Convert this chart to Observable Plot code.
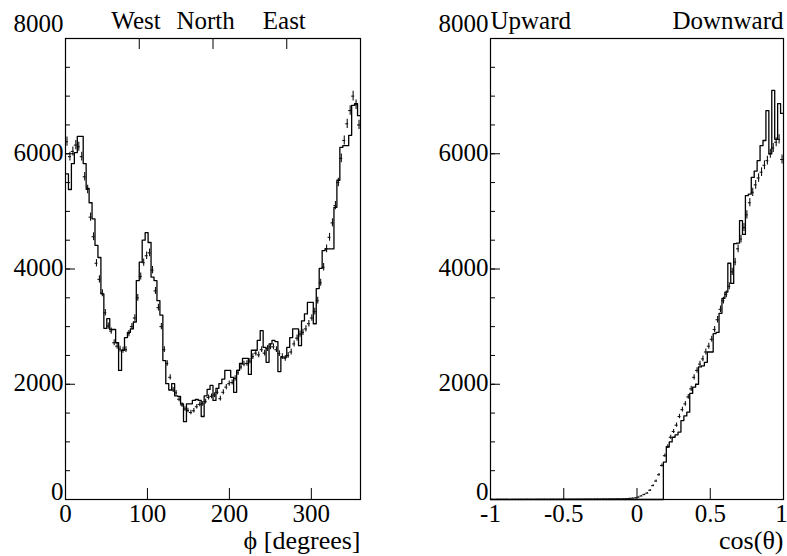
<!DOCTYPE html>
<html><head><meta charset="utf-8">
<script src="https://cdn.jsdelivr.net/npm/d3@7"></script>
<script src="https://cdn.jsdelivr.net/npm/@observablehq/plot@0.6"></script>
<style>
body{margin:0;background:#fff;}
#wrap{position:relative;width:787px;height:556px;overflow:hidden;}
#left,#right{position:absolute;top:0;}
#left{left:0}
#right{left:393px}
#wrap svg, #wrap svg text{font-family:"Liberation Serif","Times New Roman",Times,serif !important;}
</style></head><body><div id="wrap"><div id="left"></div><div id="right"></div></div>
<script>
// ---------- data: azimuth (phi) panel ----------
const phiStart = 0;
const phiBinWidth = 3.6;
const phiHist = [5650,5380,5830,6020,6300,6300,5830,5400,5150,4870,
4410,4200,3570,2970,3140,2950,2950,2720,2240,2590,
2810,2900,2960,3080,3800,4120,4500,4630,4460,3860,
3800,3450,3200,2410,2010,1900,2010,1800,1790,1660,
1350,1660,1660,1720,1735,1720,1440,1800,1910,1980,
1720,1930,2010,2090,2240,2240,2120,1860,2240,2360,
2450,2450,2170,2590,2590,2760,2930,2640,2380,2700,
2760,2740,2220,2470,2470,2640,2810,2960,2960,2670,
3100,3220,3420,3420,3050,3660,4010,4320,4350,4350,
4350,5070,5540,6110,6140,6140,6320,6840,6870,6660];
const phiData = [6210,5950,6040,6150,6120,5950,5600,5380,4900,4560,
4100,3820,3580,3240,3010,2920,2720,2660,2610,2590,
2600,2880,3000,3150,3500,3870,4110,4230,4280,3980,
3620,3330,3000,2600,2360,2120,1900,1850,1740,1640,
1570,1545,1510,1540,1610,1650,1660,1700,1770,1790,
1810,1860,1750,1860,1950,2010,2030,2100,2200,2300,
2350,2360,2400,2480,2540,2510,2600,2540,2620,2650,
2650,2600,2530,2480,2450,2500,2560,2700,2800,2870,
2900,2960,3050,3150,3260,3450,3760,4030,4350,4550,
4800,5100,5500,5920,6230,6520,6750,7000,6850,6500];
const phiDomain = [0, 360];
const phiTicks = [0, 100, 200, 300];
const phiTickLabels = ["0", "100", "200", "300"];
const phiTopTicks = [90, 180, 270];
const phiTopLabels = ["West", "North", "East"];
const phiTopLabelPos = [86, 171, 267];
const phiTitle = "ϕ [degrees]";

// ---------- data: zenith (cos theta) panel ----------
const cosStart = -1;
const cosBinWidth = 0.02;
const cosHist = [0,0,0,0,0,0,0,0,0,0,
0,0,0,0,0,0,0,0,0,0,
0,0,0,0,0,0,0,0,0,0,
0,0,0,0,0,0,0,0,0,0,
0,0,0,0,0,0,0,0,0,0,
0,0,0,0,0,0,0,0,0,650,
910,1000,1080,1120,1170,1370,1450,1515,1840,1950,
2000,2300,2320,2380,2560,2560,2880,2900,3230,3490,
3600,4100,3750,4440,4450,4840,4600,5275,5300,5590,
5700,5880,6140,6230,6750,6000,7100,6250,6870,6700];
const cosData = [2,1,3,2,2,3,1,2,3,2,
3,2,4,3,2,3,4,3,4,3,
4,5,4,4,5,6,5,5,6,6,
7,6,7,8,7,8,9,8,9,10,
10,11,10,12,11,12,15,18,22,28,
40,60,85,110,160,240,320,430,590,760,
920,1080,1180,1290,1440,1560,1660,1780,1920,2120,
2240,2350,2440,2560,2660,2780,2950,3120,3300,3450,
3560,3700,3950,4120,4350,4520,4720,4940,5150,5330,
5460,5580,5680,5800,5880,6000,6100,6200,6250,5900];
const cosDomain = [-1, 1];
const cosTicks = [-1, -0.5, 0, 0.5, 1];
const cosTickLabels = ["-1", "-0.5", "0", "0.5", "1"];
const cosTopLabels = ["Upward", "Downward"];
const cosTitle = "cos(θ)";

// ---------- shared y axis ----------
const yDomain = [0, 8000];
const yMajorTicks = [0, 2000, 4000, 6000, 8000];
const yMinorTicks = [0,500,1000,1500,2000,2500,3000,3500,4000,4500,5000,5500,6000,6500,7000,7500,8000];

const FONT = '"Liberation Serif", "Times New Roman", Times, serif';
const FS = 25;
const H = 556, MT = 38, MB = 57;
const plotH = H - MT - MB;

function histPoints(start, bw, vals) {
  const pts = vals.map((v, i) => ({x: start + i * bw, y: v}));
  pts.push({x: start + vals.length * bw, y: vals[vals.length - 1]});
  return pts;
}
function dataPoints(start, bw, vals) {
  return vals.map((v, i) => ({x: start + (i + 0.5) * bw, y: v, e: Math.sqrt(v)}));
}

function panel(o) {
  const plotW = o.width - o.marginLeft - o.marginRight;
  const hist = histPoints(o.start, o.bw, o.hist);
  const pts = dataPoints(o.start, o.bw, o.data);
  const labelMap = new Map(o.xTicks.map((t, i) => [t, o.xTickLabels[i]]));
  const lastTick = o.xTicks[o.xTicks.length - 1];
  const firstY = yMajorTicks[0], lastY = yMajorTicks[yMajorTicks.length - 1];
  const midY = yMajorTicks.slice(1, -1);
  const txt = {fontFamily: FONT, fontSize: FS, fill: "black"};
  const marks = [
    Plot.ruleX(pts, {x: "x", y1: d => d.y - d.e, y2: d => d.y + d.e, stroke: "#111", strokeWidth: 1.1}),
    Plot.ruleY(pts, {y: "y", x1: d => d.x - o.bw / 2, x2: d => d.x + o.bw / 2, stroke: "#111", strokeWidth: 1.1}),
    Plot.line(hist, {x: "x", y: "y", curve: "step-after", stroke: "black", strokeWidth: 1.3}),
    Plot.tickY(yMinorTicks, {y: d => d, insetRight: plotW - 5, stroke: "black"}),
    Plot.tickY(yMajorTicks, {y: d => d, insetRight: plotW - 10, stroke: "black"}),
    Plot.tickX(o.xTicks, {x: d => d, insetTop: plotH - 11, stroke: "black"}),
    Plot.axisY({ticks: midY, tickSize: 0, tickPadding: 2, dy: -1, tickFormat: d => String(d), label: null, ...txt}),
    Plot.axisY({ticks: [firstY], tickSize: 0, tickPadding: 2, dy: -8, tickFormat: d => String(d), label: null, ...txt}),
    Plot.axisY({ticks: [lastY], tickSize: 0, tickPadding: 2, dy: -15, tickFormat: d => String(d), label: null, ...txt}),
    Plot.axisX({ticks: o.xTicks.slice(0, -1), tickSize: 0, tickPadding: 5, tickFormat: d => labelMap.get(d), label: null, ...txt}),
    Plot.axisX({ticks: [lastTick], tickSize: 0, tickPadding: 5, dx: o.lastDx || 0, tickFormat: d => labelMap.get(d), label: null, ...txt}),
    Plot.text([o.title], {frameAnchor: "bottom-right", dy: 49, ...txt, fontSize: 26}),
    Plot.frame({stroke: "black", strokeWidth: 1.2})
  ];
  if (o.topTicks) marks.push(Plot.tickX(o.topTicks, {x: d => d, insetBottom: plotH - 11, stroke: "black"}));
  if (o.topLabelPos) {
    marks.push(Plot.text(o.topLabels, {x: (d, i) => o.topLabelPos[i], frameAnchor: "top", lineAnchor: "bottom", dy: -10, ...txt}));
  } else {
    marks.push(Plot.text([o.topLabels[0]], {frameAnchor: "top-left", lineAnchor: "bottom", dy: -10, ...txt}));
    marks.push(Plot.text([o.topLabels[1]], {frameAnchor: "top-right", lineAnchor: "bottom", dy: -10, ...txt}));
  }
  return Plot.plot({
    width: o.width, height: H,
    marginLeft: o.marginLeft, marginRight: o.marginRight, marginTop: MT, marginBottom: MB,
    style: {fontFamily: FONT, fontSize: FS + "px", color: "black", background: "white", overflow: "visible"},
    x: {domain: o.domain, nice: false},
    y: {domain: yDomain, nice: false},
    marks
  });
}

document.getElementById("left").appendChild(panel({
  width: 393, marginLeft: 65, marginRight: 33,
  start: phiStart, bw: phiBinWidth, hist: phiHist, data: phiData,
  domain: phiDomain, xTicks: phiTicks, xTickLabels: phiTickLabels,
  topTicks: phiTopTicks, topLabels: phiTopLabels, topLabelPos: phiTopLabelPos,
  title: phiTitle
}));
document.getElementById("right").appendChild(panel({
  width: 394, marginLeft: 97, marginRight: 4, lastDx: -2,
  start: cosStart, bw: cosBinWidth, hist: cosHist, data: cosData,
  domain: cosDomain, xTicks: cosTicks, xTickLabels: cosTickLabels,
  topLabels: cosTopLabels,
  title: cosTitle
}));
</script></body></html>
